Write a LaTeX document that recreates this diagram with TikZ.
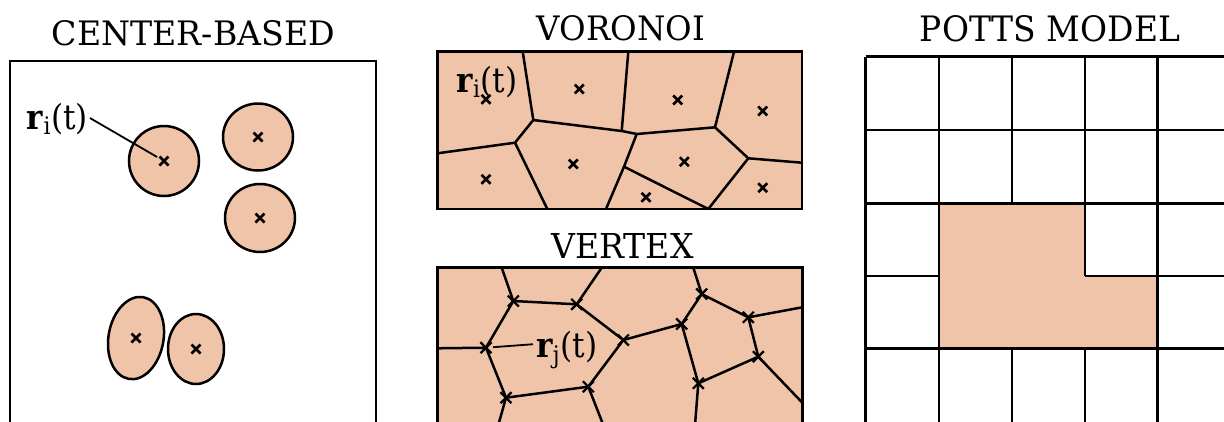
\documentclass[tikz,border=0pt]{standalone}
\usepackage{graphicx}
\usepackage{fontspec}
\newfontfamily\ttlfont{DejaVu Serif Condensed}
\definecolor{cellfill}{RGB}{240,196,168}
\newcommand{\lbl}[1]{\resizebox{61pt}{!}{\textbf{r}\textsubscript{#1}(t)}}
\newcommand{\ttltext}[3]{\resizebox{#1pt}{#2pt}{\ttlfont #3}}
\newcommand{\xmk}[2][4.5]{\draw[xm] (#2) ++(-#1,-#1) -- ++(2*#1,2*#1) ++(0,-2*#1) -- ++(-2*#1,2*#1);}
\tikzset{
  edge/.style={line width=2.5pt, black},
  frame/.style={line width=2.7pt, black},
  xm/.style={line width=2.6pt, black},
  vxm/.style={line width=2.2pt, black},
  lead/.style={line width=1.8pt, black},
  ttl/.style={anchor=base, inner sep=0pt},
  lab/.style={inner sep=0pt, font=\ttlfont\fontsize{24}{28}\selectfont},
}
\begin{document}
\begin{tikzpicture}[x=1pt,y=-1pt]
\clip (0,0) rectangle (1224,421);
\fill[white] (0,0) rectangle (1224,421);

% ---------------- titles
\node[ttl] (t1) at (193.5,45) {\ttltext{283}{25}{CENTER-BASED}};
\node[ttl] (t2) at (620.8,40) {\ttltext{168}{25}{VORONOI}};
\node[ttl] (t3) at (622.5,258) {\ttltext{142}{25}{VERTEX}};
\node[ttl] (t4) at (1050,41.7) {\ttltext{260}{26}{POTTS MODEL}};

% ---------------- center-based
\draw[frame] (10,430) -- (10,61) -- (376,61) -- (376,430);
\coordinate (c1) at (164,161);
\coordinate (c2) at (258,137);
\coordinate (c3) at (260,218);
\coordinate (c4) at (136,338);
\coordinate (c5) at (196,349);
\draw[edge, fill=cellfill] (c1) circle [radius=35];
\draw[edge, fill=cellfill] (c2) ellipse [x radius=35, y radius=33.5];
\draw[edge, fill=cellfill] (c3) ellipse [x radius=35, y radius=34];
\draw[edge, fill=cellfill, rotate around={-10:(c4)}] (c4) ellipse [x radius=27.5, y radius=41.5];
\draw[edge, fill=cellfill] (c5) ellipse [x radius=28, y radius=35];
\foreach \c in {c1,c2,c3,c4,c5} {\xmk{\c}}
\node[lab] (ri1) at (57.5,119) {\lbl{i}};
\draw[lead, shorten <=2pt, shorten >=8pt] ([yshift=2pt]ri1.east) -- (c1);

% ---------------- voronoi
\fill[cellfill] (437.5,51.7) rectangle (802,209);
\coordinate (vA) at (522.7,51.7);
\coordinate (vB) at (533.3,120);
\coordinate (vC) at (621.7,131);
\coordinate (vT2) at (628.3,51.7);
\coordinate (vD) at (636.7,134);
\coordinate (vDb) at (606,209);
\coordinate (vT3) at (734,51.7);
\coordinate (vE) at (715,127.3);
\coordinate (vF) at (748.3,158.3);
\coordinate (vR) at (802,162.7);
\coordinate (vG) at (708.3,209);
\coordinate (vH) at (624,166.7);
\coordinate (vI) at (515,142.7);
\coordinate (vL) at (437.5,153.3);
\coordinate (vIb) at (547.3,209);
\draw[edge] (vA) -- (vB) -- (vC) -- (vD) -- (vE);
\draw[edge] (vT2) -- (vC);
\draw[edge] (vD) -- (vH) -- (vDb);
\draw[edge] (vH) -- (vG);
\draw[edge] (vT3) -- (vE) -- (vF) -- (vR);
\draw[edge] (vF) -- (vG);
\draw[edge] (vB) -- (vI) -- (vL);
\draw[edge] (vI) -- (vIb);
\draw[frame] (437.5,51.7) rectangle (802,209);
\foreach \p in {(486,99.3),(579.3,89),(677.7,100),(762.7,111),(486,179.3),(573.3,164),(684.3,161.7),(646,197.3),(762.7,187.7)} {
  \draw[xm] \p ++(-4.5,-4.5) -- ++(9,9) ++(0,-9) -- ++(-9,9);
}
\node[lab] (ri2) at (487,81.7) {\lbl{i}};

% ---------------- vertex
\fill[cellfill] (437.3,267.7) rectangle (802.3,430);
\coordinate (V1) at (513.3,301);
\coordinate (V2) at (576.7,304.3);
\coordinate (V3) at (486,347.7);
\coordinate (V4) at (623.3,340);
\coordinate (V5) at (701.7,294);
\coordinate (V6) at (681.7,324);
\coordinate (V7) at (748.3,317.3);
\coordinate (V8) at (758.3,356.7);
\coordinate (V9) at (698.3,383.3);
\coordinate (V10) at (588.3,386.7);
\coordinate (V11) at (506,397.7);
\coordinate (W1) at (501.7,267.7);
\coordinate (W2) at (601.7,267.7);
\coordinate (W3) at (437.3,348.3);
\coordinate (W5) at (693.3,267.7);
\coordinate (W7) at (802.3,307.3);
\coordinate (W8) at (802.3,402.7);
\coordinate (W9) at (695,425);
\coordinate (W10) at (603.3,425);
\coordinate (W11) at (498.3,425);
\draw[edge] (W1) -- (V1) -- (V2) -- (W2);
\draw[edge] (V1) -- (V3) -- (W3);
\draw[edge] (V3) -- (V11) -- (W11);
\draw[edge] (V2) -- (V4) -- (V6) -- (V5) -- (W5);
\draw[edge] (V4) -- (V10) -- (W10);
\draw[edge] (V10) -- (V11);
\draw[edge] (V5) -- (V7) -- (W7);
\draw[edge] (V7) -- (V8) -- (W8);
\draw[edge] (V6) -- (V9) -- (W9);
\draw[edge] (V8) -- (V9);
\draw[frame] (437.3,430) -- (437.3,267.7) -- (802.3,267.7) -- (802.3,430);
\foreach \v in {V1,V2,V3,V4,V5,V6,V7,V8,V9,V10,V11} {
  \draw[vxm] (\v) ++(-5.5,-5.5) -- ++(11,11) ++(0,-11) -- ++(-11,11);
}
\node[lab] (rj) at (566.7,350) {\lbl{j}};
\draw[lead, shorten <=3pt, shorten >=7pt] ([yshift=6pt]rj.west) -- (V3);

% ---------------- potts
\fill[cellfill] (939,203.3) -- (1085,203.3) -- (1085,276) -- (1157.7,276) -- (1157.7,348.3) -- (939,348.3) -- cycle;
\draw[frame] (865.7,56.7) -- (1230,56.7);
\draw[frame] (865.7,130) -- (1230,130);
\draw[frame] (865.7,203.3) -- (1230,203.3);
\draw[frame] (865.7,276) -- (939,276);
\draw[frame] (1085,276) -- (1230,276);
\draw[frame] (865.7,348.3) -- (1230,348.3);
\draw[frame] (865.7,56.7) -- (865.7,430);
\draw[frame] (939,56.7) -- (939,430);
\draw[frame] (1012,56.7) -- (1012,203.3);
\draw[frame] (1012,348.3) -- (1012,430);
\draw[frame] (1085,56.7) -- (1085,276);
\draw[frame] (1085,348.3) -- (1085,430);
\draw[frame] (1157.7,56.7) -- (1157.7,430);
\end{tikzpicture}
\end{document}
